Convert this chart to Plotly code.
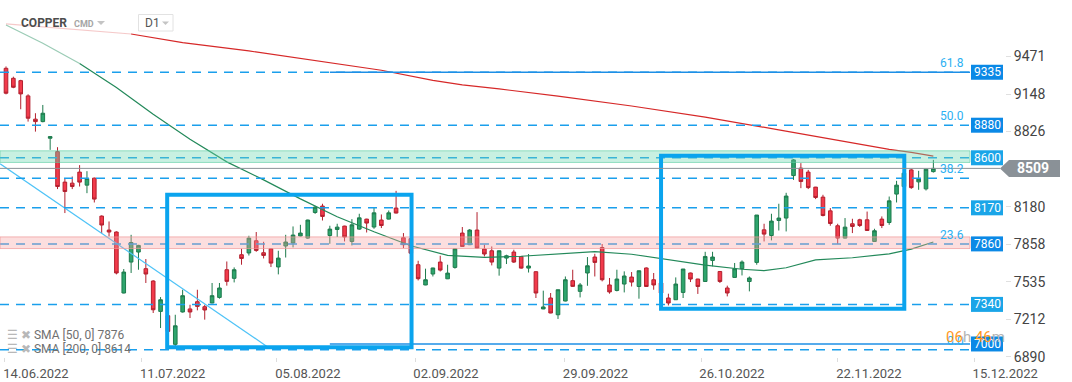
import plotly.graph_objects as go

# ---------------- data ----------------
opens = [9369, 9283, 9263, 9132, 8932, 8911, 8768, 8653, 8391, 8382,
         8477, 8365, 8425, 8099, 7979, 7962, 7438, 7704, 7790, 7647,
         7541, 7280, 7243, 6997, 7275, 7301, 7363, 7320, 7352, 7400,
         7638, 7564, 7767, 7782, 7887, 7784, 7818, 7662, 7842, 7867,
         7928, 7910, 8130, 8185, 7932, 7984, 8013, 7881, 7987, 8073,
         8005, 8065, 8073, 8168, 7913, 7905, 7681, 7507, 7601, 7704,
         7560, 7658, 7953, 7853, 7979, 7816, 7801, 7652, 7738, 7790,
         7752, 7652, 7621, 7301, 7395, 7251, 7369, 7544, 7452, 7610,
         7747, 7829, 7507, 7460, 7515, 7575, 7494, 7653, 7552, 7524,
         7395, 7380, 7443, 7610, 7558, 7537, 7718, 7623, 7481, 7572,
         7647, 7537, 7701, 7981, 7932, 8061, 8082, 8447, 8511, 8477,
         8348, 8262, 8144, 8016, 7910, 8033, 8067, 8067, 7881, 8073,
         8044, 8288, 8353, 8496, 8393, 8333, 8481]
highs = [9385, 9297, 9270, 9146, 8983, 9054, 8782, 8691, 8425, 8439,
         8537, 8485, 8430, 8105, 8053, 7968, 7644, 7938, 7852, 7730,
         7548, 7403, 7278, 7251, 7466, 7337, 7466, 7337, 7524, 7524,
         7709, 7658, 7818, 7930, 7962, 7878, 7822, 7801, 7938, 8010,
         8024, 8068, 8187, 8205, 8016, 8033, 8016, 8073, 8119, 8076,
         8176, 8113, 8147, 8316, 7953, 7930, 7715, 7647, 7655, 7758,
         7681, 7820, 8005, 7987, 8133, 7853, 7838, 7803, 7767, 7810,
         7755, 7773, 7624, 7458, 7438, 7466, 7580, 7638, 7524, 7747,
         7775, 7859, 7567, 7638, 7624, 7618, 7632, 7658, 7610, 7540,
         7432, 7572, 7644, 7613, 7560, 7792, 7792, 7625, 7501, 7696,
         7718, 7580, 8108, 8033, 8119, 8205, 8299, 8590, 8554, 8496,
         8350, 8282, 8168, 8033, 8082, 8076, 8076, 8138, 7990, 8096,
         8267, 8402, 8482, 8505, 8488, 8502, 8582]
lows = [9145, 9198, 9017, 8911, 8825, 8905, 8668, 8331, 8125, 8331,
        8353, 8296, 8216, 7953, 7924, 7598, 7435, 7610, 7638, 7524,
        7266, 7137, 7100, 6979, 7270, 7223, 7289, 7209, 7350, 7389,
        7501, 7529, 7681, 7760, 7792, 7735, 7661, 7598, 7743, 7830,
        7925, 7904, 8118, 8061, 7861, 7919, 7881, 7847, 7981, 7958,
        7990, 7996, 8070, 8122, 7824, 7760, 7546, 7505, 7580, 7623,
        7558, 7647, 7835, 7850, 7822, 7752, 7675, 7587, 7687, 7696,
        7647, 7614, 7395, 7299, 7264, 7215, 7366, 7490, 7400, 7500,
        7580, 7538, 7432, 7452, 7443, 7494, 7389, 7492, 7466, 7430,
        7331, 7378, 7395, 7532, 7430, 7535, 7667, 7524, 7409, 7570,
        7589, 7452, 7681, 7881, 7890, 7975, 7967, 8410, 8339, 8331,
        8245, 8096, 8016, 7859, 7908, 7953, 8005, 7973, 7879, 7996,
        8024, 8216, 8350, 8333, 8325, 8319, 8473]
closes = [9155, 9206, 9149, 8940, 8911, 8983, 8782, 8353, 8310, 8353,
          8391, 8422, 8245, 8022, 7962, 7610, 7618, 7872, 7847, 7601,
          7294, 7380, 7108, 7156, 7415, 7275, 7323, 7292, 7415, 7481,
          7538, 7638, 7735, 7910, 7804, 7761, 7695, 7738, 7876, 7936,
          7953, 8065, 8176, 8096, 7987, 8004, 7919, 8024, 8084, 8039,
          8127, 8018, 8127, 8125, 7853, 7780, 7561, 7552, 7653, 7635,
          7609, 7818, 7838, 7979, 7824, 7773, 7704, 7801, 7758, 7704,
          7652, 7670, 7438, 7318, 7266, 7466, 7552, 7495, 7507, 7672,
          7701, 7552, 7447, 7558, 7584, 7532, 7629, 7494, 7507, 7438,
          7352, 7515, 7644, 7558, 7494, 7752, 7747, 7537, 7438, 7647,
          7704, 7567, 8108, 7944, 8056, 8082, 8271, 8582, 8396, 8344,
          8259, 8104, 8035, 7910, 8004, 8010, 8018, 7975, 7973, 8018,
          8230, 8365, 8468, 8344, 8417, 8502, 8509]
candle_idx = list(range(len(opens)))

sma50_idx = [0, 5, 10, 15, 20, 25, 30, 35, 40, 45, 50, 55, 60, 65, 70, 75, 80,
             85, 90, 95, 100, 103, 106, 110, 115, 120, 123, 126]
sma50_val = [9741, 9585, 9410, 9205, 8975, 8760, 8565, 8410, 8247, 8093, 7964,
             7844, 7762, 7745, 7754, 7776, 7793, 7771, 7723, 7677, 7642, 7630,
             7655, 7723, 7741, 7775, 7815, 7876]
sma200_idx = [0, 8, 17, 24, 33, 42, 51, 58, 62, 67, 75, 85, 95, 105, 115, 120, 123, 126]
sma200_val = [9750, 9712, 9664, 9589, 9518, 9436, 9352, 9265, 9226, 9192, 9130,
              9045, 8950, 8840, 8725, 8672, 8647, 8614]

trend_idx = [-0.8, 35.5]
trend_val = [8548, 6977]

x_tick_pos = [-0.14, 18.44, 36.8, 55.57, 75.88, 94.43, 113.04, 131.56]
x_tick_text = ["14.06.2022", "11.07.2022", "05.08.2022", "02.09.2022",
               "29.09.2022", "26.10.2022", "22.11.2022", "15.12.2022"]
y_tick_vals = [9471, 9148, 8826, 8180, 7858, 7535, 7212, 6890]

dashed_levels = [9335, 8880, 8600, 8424, 8170, 7860, 7340, 6950]
label_levels = [9335, 8880, 8600, 8170, 7860, 7340, 7000]
label_dark = [True, True, False, False, True, False, True]
solid_levels = [9335, 7000]
solid_start_idx = 44
fib_names = ["61.8", "50.0", "38.2", "23.6", "0.0"]
fib_values = [9335, 8880, 8424, 7861, 6950]
green_zone = [8560, 8660]
pink_zone = [7820, 7920]
box1_idx = [21.9, 55.1]
box1_val = [6971, 8282]
box2_idx = [89.0, 122.05]
box2_val = [7303, 8617]
last_price = 8509
sma50_last = 7876
sma200_last = 8614

# ---------------- layout helpers ----------------
PLOT_W, PLOT_H = 1005, 357
Y_RANGE = [6888, 9956]
X_RANGE = [-6 / 7.36, (PLOT_W - 6) / 7.36]


def pxx(x):
    return x / PLOT_W


def pyy(y):
    return 1 - y / PLOT_H


FONT = "Roboto"
LINE_BLUE = "#1a9fec"
BOX_BLUE = "#0aa4ee"

fig = go.Figure()

fig.add_trace(go.Candlestick(
    x=candle_idx, open=opens, high=highs, low=lows, close=closes,
    increasing=dict(line=dict(color="#1d7a4c", width=1), fillcolor="#2ea56d"),
    decreasing=dict(line=dict(color="#b3202e", width=1), fillcolor="#f23a4b"),
    whiskerwidth=0, hoverinfo="skip"))

# SMA lines (faded at the start)
fig.add_trace(go.Scatter(x=sma200_idx[:3], y=sma200_val[:3], mode="lines",
                         line=dict(color="rgba(214,40,40,0.25)", width=1.2), hoverinfo="skip"))
fig.add_trace(go.Scatter(x=sma200_idx[2:], y=sma200_val[2:], mode="lines",
                         line=dict(color="#d62828", width=1.2), hoverinfo="skip"))
fig.add_trace(go.Scatter(x=sma50_idx[:3], y=sma50_val[:3], mode="lines",
                         line=dict(color="rgba(30,140,90,0.45)", width=1.2), hoverinfo="skip"))
fig.add_trace(go.Scatter(x=sma50_idx[2:], y=sma50_val[2:], mode="lines",
                         line=dict(color="#23895a", width=1.2), hoverinfo="skip"))
fig.add_trace(go.Scatter(x=trend_idx, y=trend_val, mode="lines",
                         line=dict(color="#4fc3f7", width=1.2), hoverinfo="skip"))

shapes = []
annotations = []
x_end = pxx(970)

# dashed levels
for v in dashed_levels:
    shapes.append(dict(type="line", xref="paper", yref="y", x0=0, x1=x_end, y0=v, y1=v,
                       line=dict(color=LINE_BLUE, width=1.5, dash="9px,7px"), layer="above"))
# solid levels
for v in solid_levels:
    shapes.append(dict(type="line", xref="x", yref="y", x0=solid_start_idx,
                       x1=(970 - 6) / 7.36, y0=v, y1=v,
                       line=dict(color="#1e8fe6", width=1.5), layer="above"))
# zones
shapes.append(dict(type="rect", xref="paper", yref="y", x0=0, x1=x_end,
                   y0=green_zone[0], y1=green_zone[1],
                   fillcolor="rgba(110,215,175,0.38)",
                   line=dict(color="rgba(90,205,160,0.6)", width=1), layer="above"))
shapes.append(dict(type="rect", xref="paper", yref="y", x0=0, x1=x_end,
                   y0=pink_zone[0], y1=pink_zone[1],
                   fillcolor="rgba(245,160,160,0.35)",
                   line=dict(color="rgba(240,150,150,0.7)", width=1), layer="above"))
# boxes
for bi, bv in ((box1_idx, box1_val), (box2_idx, box2_val)):
    shapes.append(dict(type="rect", xref="x", yref="y", x0=bi[0], x1=bi[1],
                       y0=bv[0], y1=bv[1], line=dict(color=BOX_BLUE, width=4),
                       fillcolor="rgba(0,0,0,0)", layer="above"))

# current price line and tag
shapes.append(dict(type="line", xref="paper", yref="y", x0=0, x1=pxx(1000),
                   y0=last_price, y1=last_price,
                   line=dict(color="#8a9197", width=1), layer="above"))
hh = 8.5 / 0.11636
shapes.append(dict(type="path", xref="paper", yref="y",
                   path=(f"M {pxx(1000)},{last_price} L {pxx(1009)},{last_price + hh} "
                         f"L {pxx(1060)},{last_price + hh} L {pxx(1060)},{last_price - hh} "
                         f"L {pxx(1009)},{last_price - hh} Z"),
                   fillcolor="#8a9197", line=dict(width=0), layer="above"))
annotations.append(dict(xref="paper", yref="y", x=pxx(1033), y=last_price,
                        text=f"<b>{last_price}</b>", showarrow=False,
                        font=dict(family=FONT, size=14, color="white"),
                        xanchor="center", yanchor="middle"))

# price labels
bh = 7.5 / 0.11636
for v, dark in zip(label_levels, label_dark):
    col = "#0b89e6" if dark else "#1aa5e8"
    shapes.append(dict(type="rect", xref="paper", yref="y", x0=pxx(971), x1=pxx(1003),
                       y0=v - bh, y1=v + bh, fillcolor=col, line=dict(width=0), layer="above"))
    annotations.append(dict(xref="paper", yref="y", x=pxx(987), y=v, text=str(v),
                            showarrow=False, font=dict(family=FONT, size=12, color="white"),
                            xanchor="center", yanchor="middle"))

# fib labels
for name, v in zip(fib_names, fib_values):
    annotations.append(dict(xref="paper", yref="y", x=pxx(966), y=v, text=name,
                            showarrow=False, font=dict(family=FONT, size=12, color="#2bb0f2"),
                            xanchor="right", yanchor="bottom", yshift=0))

# countdown
annotations.append(dict(xref="paper", yref="paper", x=pxx(944), y=pyy(337),
                        text=('<span style="color:#ff9a1f">06</span><span style="color:#b5b5b5">h</span> '
                              '<span style="color:#ff9a1f">46</span><span style="color:#b5b5b5">m</span>'),
                        showarrow=False, font=dict(family=FONT, size=15),
                        xanchor="left", yanchor="middle"))

# header
annotations.append(dict(xref="paper", yref="paper", x=pxx(19), y=pyy(23), text="<b>COPPER</b>",
                        showarrow=False, font=dict(family=FONT, size=12, color="#4d4d4d"),
                        xanchor="left", yanchor="middle"))
annotations.append(dict(xref="paper", yref="paper", x=pxx(72), y=pyy(24), text="<b>CMD</b>",
                        showarrow=False, font=dict(family=FONT, size=9, color="#a5a5a5"),
                        xanchor="left", yanchor="middle"))
shapes.append(dict(type="path", xref="paper", yref="paper",
                   path=f"M {pxx(97)},{pyy(21)} L {pxx(105)},{pyy(21)} L {pxx(101)},{pyy(25)} Z",
                   fillcolor="#c4c4c4", line=dict(width=0)))
shapes.append(dict(type="rect", xref="paper", yref="paper", x0=pxx(138.5), x1=pxx(173),
                   y0=pyy(31), y1=pyy(14.5), fillcolor="white",
                   line=dict(color="#e2e2e2", width=1)))
annotations.append(dict(xref="paper", yref="paper", x=pxx(143), y=pyy(23), text="D1",
                        showarrow=False, font=dict(family=FONT, size=12, color="#555555"),
                        xanchor="left", yanchor="middle"))
shapes.append(dict(type="path", xref="paper", yref="paper",
                   path=f"M {pxx(162)},{pyy(21.5)} L {pxx(169)},{pyy(21.5)} L {pxx(165.5)},{pyy(25)} Z",
                   fillcolor="#c4c4c4", line=dict(width=0)))

# SMA legend
for row_y, txt in ((335, f"SMA [50, 0] {sma50_last}"), (349, f"SMA [200, 0] {sma200_last}")):
    annotations.append(dict(xref="paper", yref="paper", x=pxx(5), y=pyy(row_y),
                            text='<span style="color:#b8b8b8">☰ ✖</span> ' + txt,
                            showarrow=False, font=dict(family=FONT, size=12, color="#707070"),
                            xanchor="left", yanchor="middle"))

fig.update_layout(
    width=1072, height=382,
    margin=dict(l=0, r=1072 - PLOT_W, t=0, b=382 - PLOT_H),
    plot_bgcolor="white", paper_bgcolor="white",
    showlegend=False,
    xaxis=dict(range=X_RANGE, rangeslider=dict(visible=False), showgrid=False,
               zeroline=False, showline=False,
               tickmode="array", tickvals=x_tick_pos, ticktext=x_tick_text,
               ticks="outside", ticklen=4, tickcolor="#dddddd",
               ticklabelshift=31,
               tickfont=dict(family=FONT, size=13, color="#555555")),
    yaxis=dict(range=Y_RANGE, side="right", showgrid=False, zeroline=False,
               showline=False, tickmode="array", tickvals=y_tick_vals,
               ticks="outside", ticklen=5, tickcolor="#e0e0e0",
               tickfont=dict(family=FONT, size=14, color="#444444")),
    shapes=shapes, annotations=annotations,
)

fig.write_html("out.html", config={"displayModeBar": False},
               post_script="document.body.style.margin='0';document.body.style.overflow='hidden';")
